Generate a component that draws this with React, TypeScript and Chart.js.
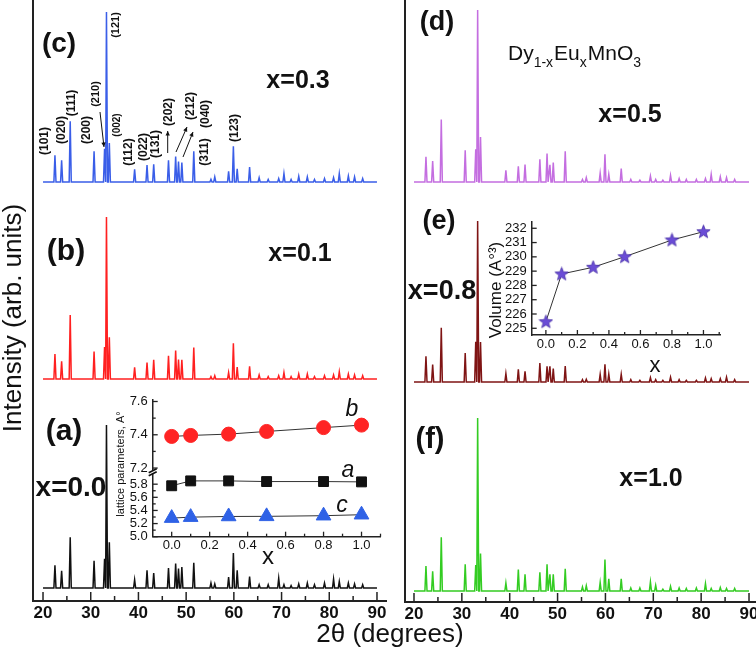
import React, { useEffect, useRef } from "react";
import { Chart, registerables } from "chart.js";
Chart.register(...registerables);

const FONT = '"Liberation Sans", Arial, Helvetica, sans-serif';

// ---------- DATA ----------
// 2θ positions (degrees) of the reflections
const peakPos = [22.5, 23.9, 25.7, 30.7, 32.9, 33.3, 33.9, 39.2, 41.8, 43.2, 46.3, 47.8, 48.4, 49.1, 51.6, 55.2, 56.0, 58.9, 59.9, 60.7, 63.3, 65.3, 67.2, 69.4, 70.5, 72.0, 73.6, 75.4, 76.9, 79.0, 80.9, 82.1, 84.0, 85.3, 87.0];
// relative intensities (%) for each composition, (121) = 100
const intX00 = [13.9, 10.6, 31.2, 16.7, 18, 100, 28, 5.1, 10.8, 9.2, 12.2, 15, 12, 12.9, 15.5, 3, 2.5, 6.7, 21.4, 10.8, 7, 2, 2, 6, 2, 1.5, 2.5, 3, 2, 3, 5.5, 4, 3, 2.5, 2];
const intX01 = [15.4, 10.9, 39.5, 17, 19.7, 100, 25.8, 7.2, 10.2, 11.9, 14.3, 17.6, 12, 11.9, 19.5, 1.5, 2, 4, 22, 7.4, 7.8, 2.5, 1.5, 2, 4, 1.5, 3, 3, 1.5, 2, 2.5, 4.5, 3, 2.5, 2];
const intX03 = [15.7, 12.7, 35.7, 18, 19.6, 100, 23, 7.5, 10, 10.4, 12.7, 15, 12, 11.4, 18, 1.6, 3, 6.3, 21, 7.8, 8.8, 2.5, 1.5, 2, 5, 1.5, 3.3, 3, 1.5, 2, 2.5, 5, 3.5, 3, 2];
const intX05 = [14.6, 12.2, 36.3, 18.4, 19, 100, 26.2, 6.8, 9.1, 10.1, 13.2, 16.5, 10, 11.3, 17.9, 1.5, 2.5, 5.2, 16.1, 4.5, 7.8, 1.5, 1, 3.5, 1.5, 1, 3.9, 2, 1.5, 1.5, 2, 4.5, 3, 2.5, 1.5];
const intX08 = [15.9, 10.8, 33.7, 18, 25, 100, 24.8, 5.2, 7.9, 6.6, 11.8, 9.7, 9.7, 8.3, 9.9, 1.5, 1.7, 4.8, 11, 5, 4.8, 1.5, 1, 2.7, 1.5, 1, 3, 1.5, 1, 1, 2.5, 2, 2, 3, 1.5];
const intX10 = [14.5, 11.4, 31, 15.5, 15, 100, 21.7, 4.6, 12.4, 9.7, 10.8, 15.5, 9.7, 9.7, 12.8, 2.3, 3, 5, 18.2, 7, 7, 1.7, 1.7, 5.2, 3.3, 1, 2.7, 1.7, 1.5, 1.7, 4.3, 1.5, 2, 1.5, 1.5];
const twoThetaMajor = [20, 30, 40, 50, 60, 70, 80, 90];
const twoThetaMinor = [25, 35, 45, 55, 65, 75, 85];

const compX = [0, 0.1, 0.3, 0.5, 0.8, 1.0];
const latticeB = [7.39, 7.396, 7.404, 7.42, 7.443, 7.458];
const latticeA = [5.776, 5.85, 5.85, 5.84, 5.84, 5.835];
const latticeC = [5.283, 5.298, 5.308, 5.31, 5.32, 5.335];
const cellVolume = [225.46, 228.8, 229.27, 230.01, 231.18, 231.76];

const insetXMajor = [0, 0.2, 0.4, 0.6, 0.8, 1.0];
const insetXMinor = [0.1, 0.3, 0.5, 0.7, 0.9, 1.1];
const latUpperMajor = [7.2, 7.4, 7.6];
const latUpperMinor = [7.3, 7.5];
const latLowerMajor = [5.0, 5.2, 5.4, 5.6, 5.8];
const latLowerMinor = [5.1, 5.3, 5.5, 5.7];
const volMajor = [225, 226, 227, 228, 229, 230, 231, 232];

// ---------- helpers ----------
function traceData(values: number[], base: number, peakPx: number) {
  const pts: { x: number; y: number }[] = [{ x: 20, y: base }];
  peakPos.forEach((p, i) => {
    pts.push({ x: p - 0.22, y: base });
    pts.push({ x: p, y: base + (values[i] / 100) * peakPx });
    pts.push({ x: p + 0.22, y: base });
  });
  pts.push({ x: 90, y: base });
  return pts;
}

type Txt = { t: string; x: number; y: number; font: string; rot?: number; align?: CanvasTextAlign; color?: string };

function drawTexts(ctx: CanvasRenderingContext2D, texts: Txt[], ox: number, oy: number) {
  for (const tx of texts) {
    ctx.save();
    ctx.font = tx.font;
    ctx.fillStyle = tx.color || "#111";
    ctx.textAlign = tx.align || "center";
    ctx.textBaseline = "middle";
    ctx.translate(tx.x - ox, tx.y - oy);
    if (tx.rot) ctx.rotate(tx.rot);
    ctx.fillText(tx.t, 0, 0);
    ctx.restore();
  }
}

function drawArrow(ctx: CanvasRenderingContext2D, x1: number, y1: number, x2: number, y2: number) {
  ctx.save();
  ctx.strokeStyle = "#111";
  ctx.fillStyle = "#111";
  ctx.lineWidth = 1;
  ctx.beginPath();
  ctx.moveTo(x1, y1);
  ctx.lineTo(x2, y2);
  ctx.stroke();
  const a = Math.atan2(y2 - y1, x2 - x1);
  ctx.beginPath();
  ctx.moveTo(x2, y2);
  ctx.lineTo(x2 - 5 * Math.cos(a - 0.45), y2 - 5 * Math.sin(a - 0.45));
  ctx.lineTo(x2 - 5 * Math.cos(a + 0.45), y2 - 5 * Math.sin(a + 0.45));
  ctx.closePath();
  ctx.fill();
  ctx.restore();
}

function ticksX(ctx: CanvasRenderingContext2D, scale: any, y: number, vals: number[], len: number) {
  for (const v of vals) {
    const px = scale.getPixelForValue(v);
    ctx.beginPath();
    ctx.moveTo(px, y);
    ctx.lineTo(px, y - len);
    ctx.stroke();
  }
}
function ticksY(ctx: CanvasRenderingContext2D, scale: any, x: number, vals: number[], len: number) {
  for (const v of vals) {
    const py = scale.getPixelForValue(v);
    ctx.beginPath();
    ctx.moveTo(x, py);
    ctx.lineTo(x + len, py);
    ctx.stroke();
  }
}

const hidden = (extra: any) => ({
  type: "linear",
  ticks: { display: false },
  grid: { display: false, drawTicks: false },
  border: { display: true, color: "#222", width: 2 },
  ...extra,
});

const baseOpts = {
  animation: false,
  responsive: false,
  events: [],
  plugins: { legend: { display: false }, tooltip: { enabled: false }, title: { display: false } },
};

function CanvasChart({ left, top, width, height, build }: any) {
  const ref = useRef<HTMLCanvasElement>(null);
  useEffect(() => {
    const chart = build(ref.current);
    return () => chart.destroy();
  }, []);
  return (
    <canvas
      ref={ref}
      width={width}
      height={height}
      style={{ position: "absolute", left, top, width, height }}
    />
  );
}

// ---------- main panels ----------
type Trace = { values: number[]; base: number; peakPx: number; color: string };

function buildMain(canvas: HTMLCanvasElement, p: any) {
  const decor = {
    id: "mainDecor",
    afterDraw(chart: any) {
      const ctx = chart.ctx as CanvasRenderingContext2D;
      const a = chart.chartArea;
      const xs = chart.scales.x;
      ctx.save();
      ctx.strokeStyle = "#222";
      ctx.lineWidth = 1.5;
      ticksX(ctx, xs, a.bottom, twoThetaMinor, 5);
      ticksX(ctx, xs, a.bottom, twoThetaMajor, 9);
      ctx.font = `bold 17px ${FONT}`;
      ctx.fillStyle = "#111";
      ctx.textAlign = "center";
      ctx.textBaseline = "middle";
      for (const v of twoThetaMajor) ctx.fillText(String(v), xs.getPixelForValue(v), a.bottom + 12);
      ctx.restore();
      drawTexts(ctx, p.texts, p.ox, 0);
      if (p.extra) p.extra(ctx, p.ox);
    },
  };
  return new Chart(canvas, {
    type: "line",
    data: {
      datasets: p.traces.map((tr: Trace) => ({
        data: traceData(tr.values, tr.base, tr.peakPx),
        borderColor: tr.color,
        borderWidth: 1.5,
        pointRadius: 0,
        tension: 0,
        fill: false,
      })),
    },
    options: {
      ...baseOpts,
      layout: { padding: 0 },
      scales: {
        x: hidden({ min: p.xMin, max: p.xMax, afterFit: (s: any) => { s.height = p.xH; } }),
        y: hidden({ min: 0, max: p.yMax, afterFit: (s: any) => { s.width = 33; } }),
      },
    },
    plugins: [decor],
  } as any);
}

const hklFont = `bold 12px ${FONT}`;
const R = -Math.PI / 2;
const leftTexts: Txt[] = [
  { t: "Intensity (arb. units)", x: 14, y: 318, font: `26px ${FONT}`, rot: R },
  { t: "(c)", x: 59, y: 44, font: `bold 28px ${FONT}` },
  { t: "x=0.3", x: 298, y: 81, font: `bold 25px ${FONT}` },
  { t: "(b)", x: 66, y: 252, font: `bold 30px ${FONT}` },
  { t: "x=0.1", x: 300, y: 254, font: `bold 25px ${FONT}` },
  { t: "(a)", x: 64, y: 432, font: `bold 30px ${FONT}` },
  { t: "x=0.0", x: 71, y: 488, font: `bold 28px ${FONT}` },
  { t: "(101)", x: 45, y: 141, font: hklFont, rot: R },
  { t: "(020)", x: 62, y: 130, font: hklFont, rot: R },
  { t: "(111)", x: 72, y: 103, font: hklFont, rot: R },
  { t: "(200)", x: 87, y: 130, font: hklFont, rot: R },
  { t: "(210)", x: 96, y: 94, font: `bold 11px ${FONT}`, rot: R },
  { t: "(121)", x: 116, y: 25, font: `bold 11px ${FONT}`, rot: R },
  { t: "(002)", x: 117, y: 125, font: `bold 10px ${FONT}`, rot: R },
  { t: "(112)", x: 129, y: 152, font: hklFont, rot: R },
  { t: "(022)", x: 144, y: 147, font: hklFont, rot: R },
  { t: "(131)", x: 156, y: 144, font: hklFont, rot: R },
  { t: "(202)", x: 169, y: 112, font: hklFont, rot: R },
  { t: "(212)", x: 191, y: 106, font: hklFont, rot: R },
  { t: "(311)", x: 205, y: 152, font: hklFont, rot: R },
  { t: "(040)", x: 206, y: 114, font: hklFont, rot: R },
  { t: "(123)", x: 235, y: 128, font: hklFont, rot: R },
];
const leftArrows = (ctx: CanvasRenderingContext2D) => {
  drawArrow(ctx, 100, 112, 104, 147);
  drawArrow(ctx, 167.7, 153, 167.7, 131);
  drawArrow(ctx, 176, 152, 187, 127);
  drawArrow(ctx, 183, 157, 193, 132);
};

const rightTexts: Txt[] = [
  { t: "(d)", x: 437, y: 23, font: `bold 27px ${FONT}` },
  { t: "x=0.5", x: 630, y: 115, font: `bold 25px ${FONT}` },
  { t: "(e)", x: 439, y: 222, font: `bold 27px ${FONT}` },
  { t: "x=0.8", x: 442, y: 292, font: `bold 27px ${FONT}` },
  { t: "(f)", x: 430, y: 440, font: `bold 29px ${FONT}` },
  { t: "x=1.0", x: 651, y: 479, font: `bold 25px ${FONT}` },
];
const formula = (ctx: CanvasRenderingContext2D, ox: number) => {
  const segs: [string, boolean][] = [["Dy", false], ["1-x", true], ["Eu", false], ["x", true], ["MnO", false], ["3", true]];
  let x = 508 - ox;
  const y = 60;
  ctx.save();
  ctx.fillStyle = "#111";
  ctx.textBaseline = "alphabetic";
  ctx.textAlign = "left";
  for (const [t, sub] of segs) {
    ctx.font = sub ? `14px ${FONT}` : `21px ${FONT}`;
    ctx.fillText(t, x, sub ? y + 7 : y);
    x += ctx.measureText(t).width + (sub ? 1 : 0);
  }
  ctx.restore();
};

// ---------- insets ----------
function drawInsetAxes(ctx: CanvasRenderingContext2D, chart: any, yDefs: any[], xLabelFmt = (v: number) => v.toFixed(1)) {
  const a = chart.chartArea;
  const xs = chart.scales.x;
  ctx.save();
  ctx.strokeStyle = "#222";
  ctx.lineWidth = 1.3;
  ticksX(ctx, xs, a.bottom, insetXMajor, 5);
  ticksX(ctx, xs, a.bottom, insetXMinor, 3);
  ctx.fillStyle = "#111";
  ctx.font = `13px ${FONT}`;
  ctx.textAlign = "center";
  ctx.textBaseline = "middle";
  for (const v of insetXMajor) ctx.fillText(xLabelFmt(v), xs.getPixelForValue(v), a.bottom + 9);
  for (const d of yDefs) {
    const sc = chart.scales[d.id];
    ticksY(ctx, sc, a.left, d.major, 5);
    ticksY(ctx, sc, a.left, d.minor, 3);
    ctx.textAlign = "right";
    for (const v of d.major) ctx.fillText(d.fmt(v), a.left - 5, sc.getPixelForValue(v));
  }
  ctx.restore();
}

function starImage() {
  const c = document.createElement("canvas");
  c.width = 15;
  c.height = 15;
  const g = c.getContext("2d")!;
  g.beginPath();
  for (let i = 0; i < 10; i++) {
    const r = i % 2 === 0 ? 7 : 3;
    const ang = -Math.PI / 2 + (i * Math.PI) / 5;
    const px = 7.5 + r * Math.cos(ang);
    const py = 7.8 + r * Math.sin(ang);
    if (i === 0) g.moveTo(px, py);
    else g.lineTo(px, py);
  }
  g.closePath();
  g.fillStyle = "#6a4cd6";
  g.fill();
  g.strokeStyle = "#4a32a8";
  g.lineWidth = 0.8;
  g.stroke();
  return c;
}

function buildLattice(canvas: HTMLCanvasElement) {
  const ox = 100, oy = 390;
  const decor = {
    id: "latDecor",
    afterDraw(chart: any) {
      const ctx = chart.ctx as CanvasRenderingContext2D;
      drawInsetAxes(ctx, chart, [
        { id: "yTop", major: latUpperMajor, minor: latUpperMinor, fmt: (v: number) => v.toFixed(1) },
        { id: "yBot", major: latLowerMajor, minor: latLowerMinor, fmt: (v: number) => v.toFixed(1) },
      ]);
      const a = chart.chartArea;
      const yb = chart.scales.yTop.bottom;
      ctx.save();
      ctx.fillStyle = "#fff";
      ctx.fillRect(a.left - 3, yb - 1.5, 6, 3);
      ctx.strokeStyle = "#111";
      ctx.lineWidth = 1.6;
      ctx.beginPath();
      ctx.moveTo(a.left - 4, yb + 1);
      ctx.lineTo(a.left + 4, yb - 3);
      ctx.moveTo(a.left - 4, yb + 4);
      ctx.lineTo(a.left + 4, yb);
      ctx.stroke();
      ctx.restore();
      drawTexts(ctx, [
        { t: "lattice parameters, A\u00B0", x: 121, y: 464, font: `11px ${FONT}`, rot: R },
        { t: "x", x: 268, y: 557, font: `24px ${FONT}` },
        { t: "b", x: 352, y: 410, font: `italic 23px ${FONT}` },
        { t: "a", x: 348, y: 471, font: `italic 23px ${FONT}` },
        { t: "c", x: 342, y: 506, font: `italic 23px ${FONT}` },
      ], ox, oy);
    },
  };
  const ds = (vals: number[], yId: string, style: string, r: number, col: string) => ({
    data: compX.map((x, i) => ({ x, y: vals[i] })),
    yAxisID: yId,
    borderColor: "#333",
    borderWidth: 1,
    pointStyle: style,
    pointRadius: r,
    pointBackgroundColor: col,
    pointBorderColor: col,
    pointBorderWidth: 1,
    tension: 0,
    clip: false,
  });
  return new Chart(canvas, {
    type: "line",
    data: {
      datasets: [
        ds(latticeB, "yTop", "circle", 7, "#ff2424"),
        ds(latticeA, "yBot", "rect", 7, "#111"),
        ds(latticeC, "yBot", "triangle", 8.5, "#2f62e6"),
      ],
    },
    options: {
      ...baseOpts,
      layout: { padding: { top: 8, right: 8.3, left: 0, bottom: 0 } },
      scales: {
        x: hidden({ min: -0.1, max: 1.1, border: { display: true, color: "#222", width: 1.5 }, afterFit: (s: any) => { s.height = 33.3; } }),
        yBot: hidden({ position: "left", stack: "lat", stackWeight: 65.7, min: 5.0, max: 5.99, border: { display: true, color: "#222", width: 1.5 }, afterFit: (s: any) => { s.width = 52.7; } }),
        yTop: hidden({ position: "left", stack: "lat", stackWeight: 73, min: 7.178, max: 7.612, border: { display: true, color: "#222", width: 1.5 }, afterFit: (s: any) => { s.width = 52.7; } }),
      },
    },
    plugins: [decor],
  } as any);
}

function buildVolume(canvas: HTMLCanvasElement) {
  const ox = 470, oy = 210;
  const decor = {
    id: "volDecor",
    afterDraw(chart: any) {
      const ctx = chart.ctx as CanvasRenderingContext2D;
      drawInsetAxes(ctx, chart, [{ id: "y", major: volMajor, minor: [], fmt: (v: number) => String(v) }]);
      drawTexts(ctx, [
        { t: "Volume (A\u00B0\u00B3)", x: 496, y: 290, font: `17px ${FONT}`, rot: R },
        { t: "x", x: 655, y: 366, font: `22px ${FONT}` },
      ], ox, oy);
    },
  };
  return new Chart(canvas, {
    type: "line",
    data: {
      datasets: [
        {
          data: compX.map((x, i) => ({ x, y: cellVolume[i] })),
          borderColor: "#333",
          borderWidth: 1,
          pointStyle: starImage(),
          tension: 0,
          clip: false,
        },
      ],
    },
    options: {
      ...baseOpts,
      layout: { padding: { top: 11.7, right: 10, left: 0, bottom: 0 } },
      scales: {
        x: hidden({ min: -0.09, max: 1.105, border: { display: true, color: "#222", width: 1.5 }, afterFit: (s: any) => { s.height = 40; } }),
        y: hidden({ min: 224.53, max: 232.46, border: { display: true, color: "#222", width: 1.5 }, afterFit: (s: any) => { s.width = 61.7; } }),
      },
    },
    plugins: [decor],
  } as any);
}

export default function App() {
  const leftTraces: Trace[] = [
    { values: intX00, base: 13, peakPx: 163, color: "#111111" },
    { values: intX01, base: 222, peakPx: 162, color: "#ff2020" },
    { values: intX03, base: 419, peakPx: 170, color: "#3a5ee8" },
  ];
  const rightTraces: Trace[] = [
    { values: intX10, base: 11, peakPx: 173, color: "#33cc22" },
    { values: intX08, base: 220, peakPx: 161, color: "#7f1414" },
    { values: intX05, base: 420, peakPx: 172, color: "#c46ee0" },
  ];
  return (
    <div style={{ position: "absolute", left: 0, top: 0, width: 756, height: 648, background: "#fff", overflow: "hidden" }}>
      <CanvasChart
        left={0}
        top={0}
        width={387}
        height={648}
        build={(c: HTMLCanvasElement) =>
          buildMain(c, { traces: leftTraces, xMin: 17.9, xMax: 92.1, yMax: 601, xH: 47, texts: leftTexts, ox: 0, extra: leftArrows })
        }
      />
      <CanvasChart
        left={372}
        top={0}
        width={384}
        height={648}
        build={(c: HTMLCanvasElement) =>
          buildMain(c, { traces: rightTraces, xMin: 18.12, xMax: 91.46, yMax: 602, xH: 46, texts: rightTexts, ox: 372, extra: formula })
        }
      />
      <CanvasChart left={100} top={390} width={290} height={180} build={buildLattice} />
      <CanvasChart left={470} top={210} width={260} height={165} build={buildVolume} />
      <div
        style={{
          position: "absolute",
          left: 290,
          top: 618,
          width: 200,
          textAlign: "center",
          font: `26px ${FONT}`,
          lineHeight: "30px",
          color: "#111",
        }}
      >
        2θ (degrees)
      </div>
    </div>
  );
}
